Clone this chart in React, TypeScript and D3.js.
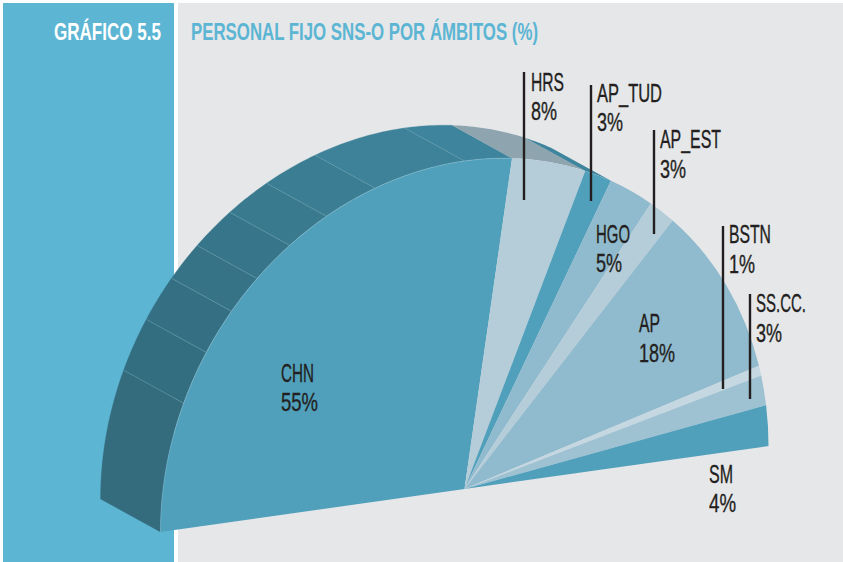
import React from "react";
import * as d3 from "d3";

const categories = ["CHN", "HRS", "AP_TUD", "HGO", "AP_EST", "AP", "BSTN", "SS.CC.", "SM"];
const shares = [55, 8, 3, 5, 3, 18, 1, 3, 4];
const sliceColors = ["#50a0bc", "#b5cdd9", "#50a0bc", "#90bacd", "#b5cdd9", "#90bacd", "#c5d7e1", "#9fc2d3", "#50a0bc"];
const wallColorsBySlice = ["#3e849c", "#8ea4af", "#3e849c"];
const chnStripeStops = [0, 12.5, 17.7, 22.2, 26.1, 30.5, 35, 40.5, 50, 55];
const chnStripeColors = ["#346c7e", "#336d80", "#346f83", "#367387", "#37768a", "#397a8e", "#3b7e93", "#3d8298", "#3e849c"];

// [label x, label right, share right, first baseline, second baseline, leader x, leader y1, leader y2]
const labelLayout: Record<string, number[]> = {
  CHN: [281, 314, 318, 382, 411],
  HRS: [531, 564, 557, 91, 120, 524, 72, 200],
  AP_TUD: [597, 662, 623, 102, 131, 591, 85, 201],
  HGO: [596, 630, 622, 243, 272],
  AP_EST: [660, 721, 686, 148, 178, 654, 130, 234],
  AP: [639, 660, 675, 332, 362],
  BSTN: [729, 771, 755, 243, 273, 723, 226, 389],
  "SS.CC.": [756, 806, 782, 312, 342, 750, 294, 399],
  SM: [709, 733, 736, 483, 512],
};

const FONT = "'Liberation Sans Narrow', 'Liberation Sans', sans-serif";
const INK = "#231f20";
const BLUE = "#5bb5d3";
const GREY = "#e6e7e9";

const cx = 464.5, cy = 489;
const ux = 304, uy = -43, vy = 328;
const depthX = -60, depthY = -33;
const R = 1000;

const angleOf = d3.scaleLinear().domain([0, 100]).range([-Math.PI / 2, Math.PI / 2]);
const pie = d3.pie<number>().sort(null).startAngle(-Math.PI / 2).endAngle(Math.PI / 2);
const arc = d3.arc<d3.PieArcDatum<number>>().innerRadius(0).outerRadius(R);
const slices = pie(shares);

const front = (a: number): [number, number] => [
  cx + ux * Math.sin(a),
  cy + uy * Math.sin(a) - vy * Math.cos(a),
];
const back = (a: number): [number, number] => {
  const [x, y] = front(a);
  return [x + depthX, y + depthY];
};
const line = d3.line();

const sampleAngles = (a0: number, a1: number) => {
  const n = Math.max(4, Math.ceil((a1 - a0) * 80));
  return d3.range(n + 1).map((i) => a0 + ((a1 - a0) * i) / n);
};

function wallPath(a0: number, a1: number) {
  const steps = sampleAngles(a0, a1);
  return line([...steps.map(back), ...steps.slice().reverse().map(front)]) + "Z";
}

function Label({ name, value }: { name: string; value: number }) {
  const [x, r1, r2, b1, b2, lx, ly1, ly2] = labelLayout[name];
  const common = {
    fontFamily: FONT,
    fontSize: 25,
    fill: INK,
    stroke: INK,
    strokeWidth: 0.35,
    lengthAdjust: "spacingAndGlyphs" as const,
  };
  return (
    <g>
      {lx !== undefined && <line x1={lx} x2={lx} y1={ly1} y2={ly2} stroke={INK} strokeWidth={2.4} />}
      <text x={x} y={b1} textLength={r1 - x} {...common}>{name}</text>
      <text x={x} y={b2} textLength={r2 - x} {...common}>{value}%</text>
    </g>
  );
}

export default function App() {
  return (
    <svg width={843} height={562} viewBox="0 0 843 562" style={{ position: "fixed", left: 0, top: 0, display: "block", background: "#fff" }}>
      <rect x={3} y={3} width={171} height={559} fill={BLUE} />
      <rect x={178} y={3} width={665} height={559} fill={GREY} />
      <text x={54} y={40} textLength={107} lengthAdjust="spacingAndGlyphs" fontFamily={FONT} fontWeight={700} fontSize={24} fill="#fff">GRÁFICO 5.5</text>
      <text x={191} y={39.5} textLength={347} lengthAdjust="spacingAndGlyphs" fontFamily={FONT} fontWeight={700} fontSize={24} fill={BLUE}>PERSONAL FIJO SNS-O POR ÁMBITOS (%)</text>

      {/* side wall: CHN stripes then the remaining slices */}
      {chnStripeColors.map((c, i) => (
        <path key={i} d={wallPath(angleOf(chnStripeStops[i]), angleOf(chnStripeStops[i + 1]))} fill={c} stroke={c} strokeWidth={0.3} />
      ))}
      {chnStripeStops.slice(1, -1).map((s) => {
        const a = angleOf(s);
        const [x1, y1] = back(a);
        const [x2, y2] = front(a);
        return <line key={s} x1={x1} y1={y1} x2={x2} y2={y2} stroke="#6fa3b3" strokeWidth={0.5} />;
      })}
      {slices.slice(1, wallColorsBySlice.length).map((s, i) => (
        <path key={i} d={wallPath(s.startAngle, s.endAngle)} fill={wallColorsBySlice[i + 1]} />
      ))}

      {/* front face */}
      <g transform={`matrix(${ux / R} ${uy / R} 0 ${vy / R} ${cx} ${cy})`}>
        {slices.map((s, i) => (
          <path key={categories[i]} d={arc(s) as string} fill={sliceColors[i]} />
        ))}
      </g>
      <path d={line(sampleAngles(slices[0].startAngle, slices[0].endAngle).map(front)) as string} fill="none" stroke="#8cc0d2" strokeWidth={0.5} />

      {categories.map((c, i) => (
        <Label key={c} name={c} value={shares[i]} />
      ))}
    </svg>
  );
}
